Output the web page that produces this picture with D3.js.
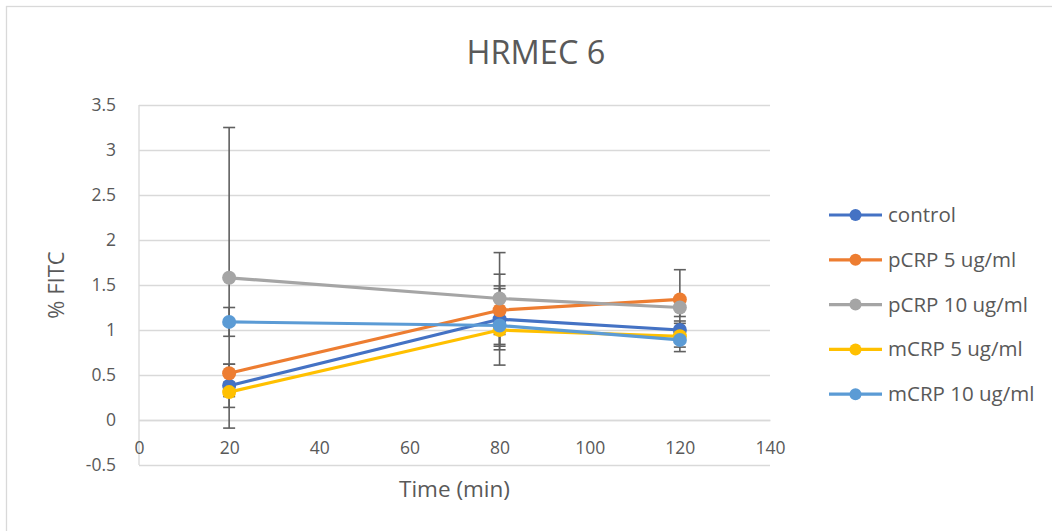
<!DOCTYPE html>
<html>
<head>
<meta charset="utf-8">
<script src="https://cdn.jsdelivr.net/npm/d3@7"></script>
<style>
  html, body { margin: 0; padding: 0; background: #fff; }
  svg { display: block; }
  text { font-family: "Open Sans", "Noto Sans", sans-serif; fill: #595959; }
</style>
</head>
<body>
<svg id="chart" width="1052" height="531"></svg>
<script>
const title = "HRMEC 6";
const xTitle = "Time (min)";
const yTitle = "% FITC";
const times = [20, 80, 120];
const seriesNames = ["control", "pCRP 5 ug/ml", "pCRP 10 ug/ml", "mCRP 5 ug/ml", "mCRP 10 ug/ml"];
const seriesColors = ["#4472C4", "#ED7D31", "#A5A5A5", "#FFC000", "#5B9BD5"];
const controlVals = [0.38, 1.12, 1.00];
const pcrp5Vals   = [0.52, 1.22, 1.34];
const pcrp10Vals  = [1.58, 1.35, 1.25];
const mcrp5Vals   = [0.31, 1.00, 0.93];
const mcrp10Vals  = [1.09, 1.05, 0.89];
const controlErr = [0.24, 0.34, 0.074];
const pcrp5Err   = [0.10, 0.40, 0.33];
const pcrp10Err  = [1.67, 0.51, 0.10];
const mcrp5Err   = [0.05, 0.05, 0.17];
const mcrp10Err  = [0.16, 0.44, 0.08];
const xTicks = [0, 20, 40, 60, 80, 100, 120, 140];
const yTicks = [-0.5, 0, 0.5, 1, 1.5, 2, 2.5, 3, 3.5];

const allVals = [controlVals, pcrp5Vals, pcrp10Vals, mcrp5Vals, mcrp10Vals];
const allErr = [controlErr, pcrp5Err, pcrp10Err, mcrp5Err, mcrp10Err];
const series = seriesNames.map((name, i) => ({
  name, color: seriesColors[i],
  points: times.map((t, j) => ({ t, v: allVals[i][j], e: allErr[i][j] }))
}));

const svg = d3.select("#chart");
const plot = { left: 139, right: 770, top: 105, bottom: 465 };
const x = d3.scaleLinear().domain([0, 140]).range([plot.left, plot.right]);
const y = d3.scaleLinear().domain([-0.5, 3.5]).range([plot.bottom, plot.top]);

// chart border
svg.append("rect").attr("x", 6.5).attr("y", 6.5).attr("width", 1100).attr("height", 600)
  .attr("fill", "#fff").attr("stroke", "#d9d9d9").attr("stroke-width", 1.3);

// title
svg.append("text").attr("x", 536).attr("y", 64).attr("text-anchor", "middle")
  .style("font-size", "32.5px").text(title);

// gridlines + y tick labels
const yAxisG = svg.append("g").attr("transform", `translate(${plot.left},0)`)
  .call(d3.axisLeft(y).tickValues(yTicks).tickSize(-(plot.right - plot.left)).tickSizeOuter(0)
    .tickFormat(d => String(d)).tickPadding(23));
yAxisG.select(".domain").remove();
yAxisG.selectAll(".tick line").attr("stroke", "#d9d9d9").attr("stroke-width", 1.3);
yAxisG.selectAll(".tick text").style("font-size", "17.5px").style("fill", "#595959")
  .attr("font-family", null);

// vertical axis line
svg.append("line").attr("x1", x(0)).attr("x2", x(0)).attr("y1", y(3.5)).attr("y2", y(-0.5))
  .attr("stroke", "#d9d9d9").attr("stroke-width", 1.3);
// horizontal axis at 0
const xAxisG = svg.append("g").attr("transform", `translate(0,${y(0)})`)
  .call(d3.axisBottom(x).tickValues(xTicks).tickSize(0).tickPadding(22).tickFormat(d => String(d)));
xAxisG.select(".domain").attr("stroke", "#d9d9d9").attr("stroke-width", 1.3);
xAxisG.selectAll(".tick text").style("font-size", "17.5px").style("fill", "#595959")
  .attr("font-family", null);

// axis titles
svg.append("text").attr("transform", `translate(64,${(plot.top + plot.bottom) / 2}) rotate(-90)`)
  .attr("text-anchor", "middle").style("font-size", "22px").text(yTitle);
svg.append("text").attr("x", (plot.left + plot.right) / 2).attr("y", 497)
  .attr("text-anchor", "middle").style("font-size", "22.5px").text(xTitle);

// error bars
const eb = svg.append("g");
series.forEach(s => {
  s.points.forEach(p => {
    const g = eb.append("g").attr("stroke", "#606060").attr("stroke-width", 1.6);
    g.append("line").attr("x1", x(p.t)).attr("x2", x(p.t)).attr("y1", y(p.v + p.e)).attr("y2", y(p.v - p.e));
    [p.v + p.e, p.v - p.e].forEach(vv => {
      g.append("line").attr("x1", x(p.t) - 6).attr("x2", x(p.t) + 6).attr("y1", y(vv)).attr("y2", y(vv));
    });
  });
});

// lines & markers
const line = d3.line().x(d => x(d.t)).y(d => y(d.v));
series.forEach(s => {
  svg.append("path").datum(s.points).attr("d", line).attr("fill", "none")
    .attr("stroke", s.color).attr("stroke-width", 3.2).attr("stroke-linejoin", "round");
  svg.append("g").selectAll("circle").data(s.points).join("circle")
    .attr("cx", d => x(d.t)).attr("cy", d => y(d.v)).attr("r", 7).attr("fill", s.color);
});

// legend
const lg = svg.append("g");
series.forEach((s, i) => {
  const yy = 215 + i * 44.8;
  lg.append("line").attr("x1", 829).attr("x2", 882).attr("y1", yy).attr("y2", yy)
    .attr("stroke", s.color).attr("stroke-width", 3.2);
  lg.append("circle").attr("cx", 855.5).attr("cy", yy).attr("r", 6).attr("fill", s.color);
  lg.append("text").attr("x", 888).attr("y", yy + 7).style("font-size", "20.5px").text(s.name);
});
</script>
</body>
</html>
